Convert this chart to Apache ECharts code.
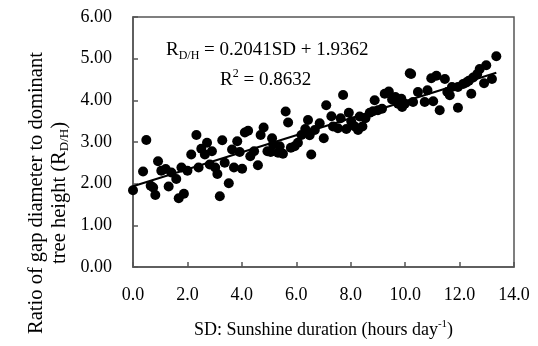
<!DOCTYPE html>
<html><head><meta charset="utf-8">
<script src="https://cdn.jsdelivr.net/npm/echarts@6/dist/echarts.min.js"></script>
<style>html,body{margin:0;padding:0;background:#fff}#c{width:538px;height:346px}</style>
</head><body><div id="c"></div>
<script>
const sd = [0.00,0.49,0.37,0.65,0.74,0.82,0.92,1.04,1.20,1.31,1.41,1.59,1.68,1.87,1.78,2.00,2.14,2.33,2.41,2.51,2.72,2.64,2.90,2.82,3.02,3.10,3.19,3.28,
3.52,3.37,3.64,3.71,3.83,3.92,4.01,4.11,4.23,4.31,4.45,4.59,4.69,4.80,4.94,5.11,5.15,5.06,5.33,5.39,5.51,5.61,5.70,5.80,5.94,6.06,6.19,6.33,6.43,6.49,6.55,
6.68,6.86,7.01,7.10,7.29,7.35,7.53,7.63,7.72,7.84,7.93,8.02,8.15,8.27,8.33,8.43,8.54,8.70,8.82,8.88,9.00,9.15,9.25,9.40,9.52,9.64,9.74,9.89,
9.86,9.99,10.17,10.22,10.29,10.47,10.72,10.82,10.96,11.03,11.15,11.27,11.46,11.55,11.64,11.72,11.94,11.94,12.13,12.25,12.34,12.43,12.50,12.65,12.74,12.90,12.98,13.19,13.35];
const rdh = [1.84,3.05,2.29,1.95,1.91,1.73,2.54,2.31,2.35,1.93,2.27,2.11,1.65,1.76,2.39,2.31,2.70,3.17,2.39,2.84,2.98,2.70,2.78,2.46,2.39,2.23,1.70,3.04,
2.01,2.50,2.82,2.39,3.02,2.76,2.36,3.23,3.27,2.66,2.78,2.44,3.17,3.35,2.78,3.09,2.94,2.76,2.74,2.90,2.72,3.73,3.47,2.86,2.90,2.98,3.17,3.31,3.53,3.16,2.70,
3.29,3.45,3.09,3.88,3.62,3.37,3.33,3.57,4.13,3.31,3.70,3.49,3.37,3.29,3.61,3.37,3.57,3.70,3.74,4.00,3.76,3.80,4.16,4.21,4.02,4.08,3.92,3.84,
4.04,3.92,4.65,4.63,3.96,4.20,3.96,4.24,4.53,3.98,4.59,3.76,4.51,4.20,4.12,4.32,3.82,4.32,4.39,4.43,4.47,4.16,4.55,4.63,4.75,4.41,4.84,4.51,5.06];
const slope = 0.2041, intercept = 1.9362, r2 = 0.8632;
const fitX = [0, 13.35];

const FONT = '"Liberation Serif","DejaVu Serif",serif';
const points = sd.map((x, i) => [x, rdh[i]]);
const fit = fitX.map(x => [x, slope * x + intercept]);
const chart = echarts.init(document.getElementById('c'), null, {renderer: 'canvas'});
const axisCol = '#555';
chart.setOption({
  animation: false,
  backgroundColor: '#fff',
  textStyle: {fontFamily: FONT, color: '#000'},
  grid: {left: 133, right: 24, top: 17, bottom: 75, show: true, borderColor: axisCol, borderWidth: 1.5, backgroundColor: 'transparent'},
  xAxis: {
    type: 'value', min: 0, max: 14, interval: 2,
    axisLine: {show: true, onZero: false, lineStyle: {color: axisCol, width: 1.5}},
    axisTick: {show: true, inside: true, length: 5, lineStyle: {color: axisCol, width: 1.5}},
    splitLine: {show: false},
    axisLabel: {margin: 19, fontFamily: FONT, fontSize: 18, color: '#000', formatter: v => v.toFixed(1)},
    name: 'SD: Sunshine duration (hours day{sup|-1})',
    nameLocation: 'middle', nameGap: 52,
    nameTextStyle: {fontFamily: FONT, fontSize: 18, color: '#000', lineHeight: 22,
      rich: {sup: {fontFamily: FONT, fontSize: 11, color: '#000', verticalAlign: 'top', lineHeight: 22}}}
  },
  yAxis: {
    type: 'value', min: 0, max: 6, interval: 1,
    axisLine: {show: true, onZero: false, lineStyle: {color: axisCol, width: 1.5}},
    axisTick: {show: true, inside: true, length: 5, lineStyle: {color: axisCol, width: 1.5}},
    splitLine: {show: false},
    axisLabel: {margin: 21, fontFamily: FONT, fontSize: 18, color: '#000', formatter: v => v.toFixed(2)}
  },
  graphic: [
    {
      type: 'text', x: 48, y: 193, rotation: Math.PI / 2,
      style: {
        text: '{n|Ratio of gap diameter to dominant}\n{n|tree height (R}{sub|D/H}{n|)}',
        fill: '#000', align: 'center', verticalAlign: 'middle',
        rich: {
          n: {fontFamily: FONT, fontSize: 20.5, lineHeight: 23, fill: '#000'},
          sub: {fontFamily: FONT, fontSize: 13, lineHeight: 23, verticalAlign: 'bottom', fill: '#000'}
        }
      }
    },
    {
      type: 'text', x: 166, y: 50,
      style: {
        text: '{n|R}{sub|D/H}{n| = ' + slope.toFixed(4) + 'SD + ' + intercept.toFixed(4) + '}',
        fill: '#000', align: 'left', verticalAlign: 'middle',
        rich: {
          n: {fontFamily: FONT, fontSize: 19, lineHeight: 24, fill: '#000'},
          sub: {fontFamily: FONT, fontSize: 12, lineHeight: 24, verticalAlign: 'bottom', fill: '#000'}
        }
      }
    },
    {
      type: 'text', x: 220, y: 80,
      style: {
        text: '{n|R}{sup|2}{n| = ' + r2.toFixed(4) + '}',
        fill: '#000', align: 'left', verticalAlign: 'middle',
        rich: {
          n: {fontFamily: FONT, fontSize: 19, lineHeight: 24, fill: '#000'},
          sup: {fontFamily: FONT, fontSize: 12, lineHeight: 24, verticalAlign: 'top', fill: '#000'}
        }
      }
    }
  ],
  series: [
    {type: 'scatter', data: points, symbol: 'circle', symbolSize: 10, itemStyle: {color: '#000', opacity: 1}, z: 3},
    {type: 'line', data: fit, symbol: 'none', lineStyle: {color: '#000', width: 2}, z: 4}
  ]
});
</script>
</body></html>
